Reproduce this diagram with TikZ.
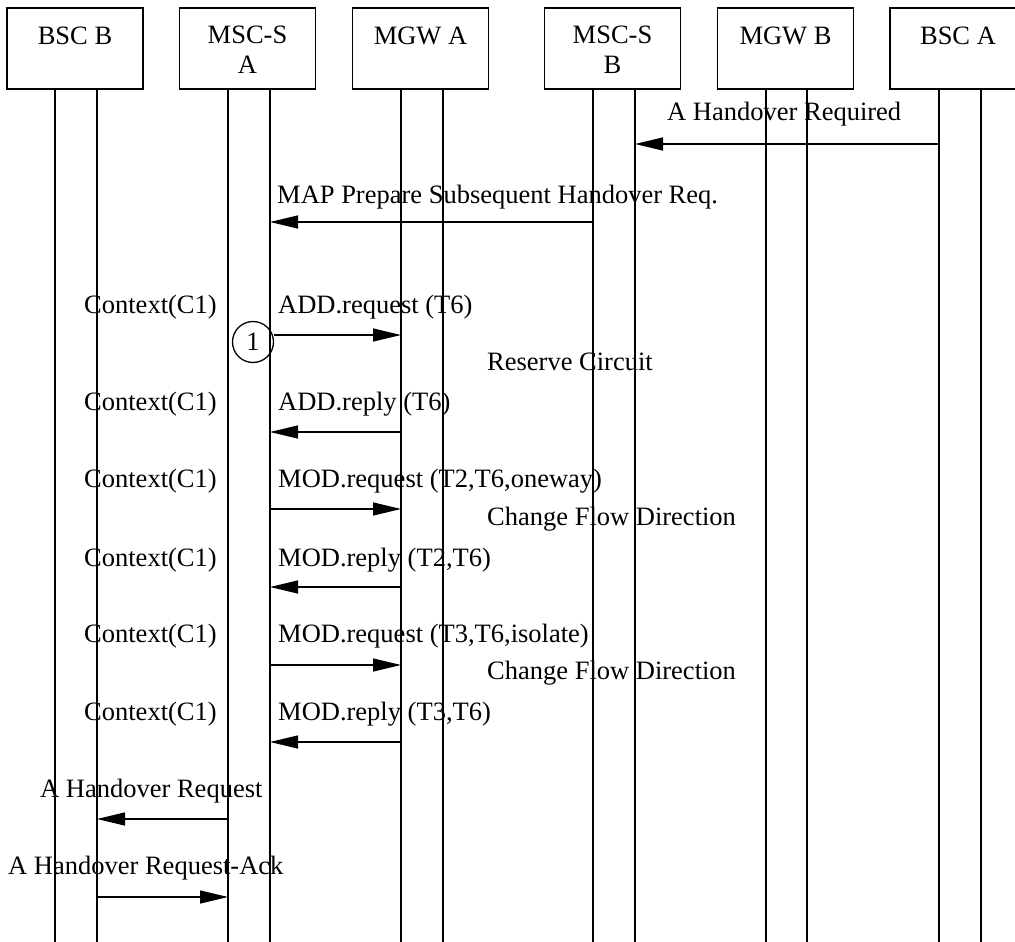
\documentclass[tikz,border=0pt]{standalone}
\usepackage{fontspec}
\setmainfont{Liberation Serif}
\usetikzlibrary{arrows.meta}
\begin{document}
\begin{tikzpicture}[x=1pt,y=-1pt,
  every node/.style={font=\fontsize{26.5}{30}\selectfont, inner sep=0pt},
  entity/.style={draw, line width=1.3pt, minimum width=136pt, minimum height=81pt},
  hdr/.style={anchor=north, align=center},
  life/.style={line width=1.3pt},
  msg/.style={line width=1.3pt, -{Triangle[length=28pt,width=13pt]}},
  lbl/.style={anchor=base west},
  markone/.style={draw, circle, line width=1.3pt, minimum size=41pt}]
\useasboundingbox (0,0) rectangle (1015,942);

% entities
\node[entity] (bscb)  at (75,48.5)  {};
\node[entity] (mscsa) at (247.5,48.5) {};
\node[entity] (mgwa)  at (420.5,48.5) {};
\node[entity] (mscsb) at (612.5,48.5) {};
\node[entity] (mgwb)  at (785.5,48.5) {};
\node[entity] (bsca)  at (958,48.5) {};
\node[hdr] (bscbt)  at (75,27)   {BSC B};
\node[hdr] (mscsat) at (247.5,25.5)  {MSC-S\\A};
\node[hdr] (mgwat)  at (420.5,27) {MGW A};
\node[hdr] (mscsbt) at (612.5,25.5)  {MSC-S\\B};
\node[hdr] (mgwbt)  at (785.5,27) {MGW B};
\node[hdr] (bscat)  at (958,27)  {BSC A};

% lifelines
\coordinate (bottom) at (0,946);
\coordinate (bscbL) at (55,89);   \coordinate (bscbR) at (97,89);
\coordinate (mscsaL) at (228,89); \coordinate (mscsaR) at (270,89);
\coordinate (mgwaL) at (401,89);  \coordinate (mgwaR) at (443,89);
\coordinate (mscsbL) at (593,89); \coordinate (mscsbR) at (635,89);
\coordinate (mgwbL) at (766,89);  \coordinate (mgwbR) at (807,89);
\coordinate (bscaL) at (939,89);  \coordinate (bscaR) at (981,89);
\foreach \l in {bscbL,bscbR,mscsaL,mscsaR,mgwaL,mgwaR,mscsbL,mscsbR,mgwbL,mgwbR,bscaL,bscaR}
  \draw[life] (\l) -- (\l |- bottom);

% message rows
\coordinate (y1) at (0,144);
\coordinate (y2) at (0,222);
\coordinate (y3) at (0,335);
\coordinate (y4) at (0,432);
\coordinate (y5) at (0,509);
\coordinate (y6) at (0,587);
\coordinate (y7) at (0,665);
\coordinate (y8) at (0,742);
\coordinate (y9) at (0,819);
\coordinate (y10) at (0,897);

% labels
\node[lbl] (t1) at (667,121) {A Handover Required};
\node[lbl] (t2) at (277,203) {MAP Prepare Subsequent Handover Req.};
\node[lbl] (c3) at (84,313) {Context(C1)};
\node[lbl] (t3) at (278,313) {ADD.request (T6)};
\node[lbl] (r3) at (487,370) {Reserve Circuit};
\node[lbl] (c4) at (84,410) {Context(C1)};
\node[lbl] (t4) at (278,410) {ADD.reply (T6)};
\node[lbl] (c5) at (84,487) {Context(C1)};
\node[lbl] (t5) at (278,487) {MOD.request (T2,T6,oneway)};
\node[lbl] (r5) at (487,525) {Change Flow Direction};
\node[lbl] (c6) at (84,566) {Context(C1)};
\node[lbl] (t6) at (278,566) {MOD.reply (T2,T6)};
\node[lbl] (c7) at (84,642) {Context(C1)};
\node[lbl] (t7) at (278,642) {MOD.request (T3,T6,isolate)};
\node[lbl] (r7) at (487,679) {Change Flow Direction};
\node[lbl] (c8) at (84,720) {Context(C1)};
\node[lbl] (t8) at (278,720) {MOD.reply (T3,T6)};
\node[lbl] (t9) at (40,797) {A Handover Request};
\node[lbl] (t10) at (8,874) {A Handover Request-Ack};

% marker
\node[markone] (one) at (253,342) {1};

% messages
\draw[msg] (bscaL |- y1) -- (mscsbR |- y1);
\draw[msg] (mscsbL |- y2) -- (mscsaR |- y2);
\draw[msg] (one.east |- y3) -- (mgwaL |- y3);
\draw[msg] (mgwaL |- y4) -- (mscsaR |- y4);
\draw[msg] (mscsaR |- y5) -- (mgwaL |- y5);
\draw[msg] (mgwaL |- y6) -- (mscsaR |- y6);
\draw[msg] (mscsaR |- y7) -- (mgwaL |- y7);
\draw[msg] (mgwaL |- y8) -- (mscsaR |- y8);
\draw[msg] (mscsaL |- y9) -- (bscbR |- y9);
\draw[msg] (bscbR |- y10) -- (mscsaL |- y10);
\end{tikzpicture}
\end{document}
